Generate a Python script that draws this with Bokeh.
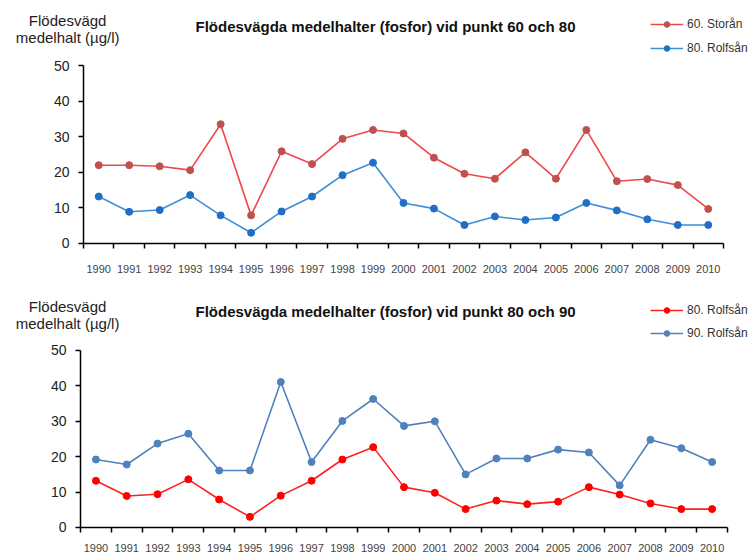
from bokeh.plotting import figure
from bokeh.layouts import column
from bokeh.models import FixedTicker, Range1d, Label, BasicTickFormatter
from bokeh.embed import file_html
from bokeh.resources import INLINE

years = [1990, 1991, 1992, 1993, 1994, 1995, 1996, 1997, 1998, 1999, 2000,
         2001, 2002, 2003, 2004, 2005, 2006, 2007, 2008, 2009, 2010]

storan_60 = [22.0, 22.0, 21.7, 20.6, 33.5, 7.9, 25.9, 22.3, 29.4, 31.9, 30.9,
             24.1, 19.6, 18.2, 25.6, 18.2, 31.9, 17.5, 18.1, 16.4, 9.7]
rolfsan_80 = [13.2, 8.9, 9.4, 13.6, 7.9, 3.0, 9.0, 13.2, 19.2, 22.7, 11.4,
              9.8, 5.2, 7.6, 6.6, 7.3, 11.4, 9.3, 6.8, 5.2, 5.2]
rolfsan_90 = [19.2, 17.8, 23.7, 26.5, 16.1, 16.1, 41.1, 18.5, 30.1, 36.3, 28.7,
              30.0, 15.0, 19.5, 19.5, 22.0, 21.2, 11.9, 24.8, 22.4, 18.5]

y_ticks = [0, 10, 20, 30, 40, 50]
y_title = ["Flödesvägd", "medelhalt (µg/l)"]
titles = ["Flödesvägda medelhalter (fosfor) vid punkt 60 och 80",
          "Flödesvägda medelhalter (fosfor) vid punkt 80 och 90"]

FONT = "Liberation Sans"
X0, X1 = years[0] - 0.5, years[-1] + 0.5


def make_panel(height, xr, yr, series, title, legend_loc, leg_spacing, ylab_x, ylab_y,
               title_xy, xstandoff):
    p = figure(width=750, height=height, output_backend="svg", toolbar_location=None,
               title=None, x_range=Range1d(*xr), y_range=Range1d(*yr),
               min_border=0, min_border_left=0, min_border_right=0,
               min_border_top=0, min_border_bottom=0)
    p.outline_line_color = None
    p.xgrid.visible = False
    p.ygrid.visible = False
    p.background_fill_color = "white"

    for name, vals, lc, mc in series:
        p.line(years, vals, line_color=lc, line_width=1.6, legend_label=name)
        p.scatter(years, vals, size=7, fill_color=mc, line_color=mc, legend_label=name)

    xa = p.xaxis[0]
    xa.fixed_location = 0
    xa.bounds = (X0, X1)
    xa.ticker = FixedTicker(ticks=years, minor_ticks=[y - 0.5 for y in years] + [X1])
    xa.formatter = BasicTickFormatter(use_scientific=False)
    xa.major_tick_out = 0
    xa.major_tick_in = 0
    xa.minor_tick_out = 5
    xa.minor_tick_in = 0
    xa.minor_tick_line_color = "black"
    xa.minor_tick_line_width = 1.5
    xa.axis_line_color = "black"
    xa.axis_line_width = 1.5
    xa.major_label_standoff = xstandoff
    xa.major_label_text_font = FONT
    xa.major_label_text_font_size = "11px"
    xa.major_label_text_color = "#444444"

    ya = p.yaxis[0]
    ya.fixed_location = X0
    ya.bounds = (0, 50)
    ya.ticker = FixedTicker(ticks=y_ticks)
    ya.major_tick_out = 5
    ya.major_tick_in = 0
    ya.minor_tick_out = 0
    ya.minor_tick_in = 0
    ya.major_tick_line_color = "black"
    ya.major_tick_line_width = 1.5
    ya.axis_line_color = "black"
    ya.axis_line_width = 1.5
    ya.major_label_standoff = 9
    ya.major_label_text_font = FONT
    ya.major_label_text_font_size = "14px"
    ya.major_label_text_color = "#222222"

    for txt, yy in zip(y_title, ylab_y):
        p.add_layout(Label(x=ylab_x, y=yy, text=txt, text_align="center", text_baseline="middle",
                           text_font=FONT, text_font_size="15px", text_color="#222222"))
    p.add_layout(Label(x=title_xy[0], y=title_xy[1], text=title, text_align="center",
                       text_baseline="middle", text_font=FONT, text_font_size="15px",
                       text_font_style="bold", text_color="#111111"))

    lg = p.legend[0]
    lg.location = legend_loc
    lg.orientation = "vertical"
    lg.border_line_color = None
    lg.background_fill_alpha = 0
    lg.padding = 0
    lg.margin = 0
    lg.spacing = leg_spacing
    lg.glyph_width = 33
    lg.glyph_height = 14
    lg.label_height = 14
    lg.label_standoff = 4
    lg.label_text_font = FONT
    lg.label_text_font_size = "12px"
    lg.label_text_color = "#333333"
    return p


top = make_panel(285, (1986.777, 2011.386), (-11.80, 68.26),
                 [("60. Storån", storan_60, "#F04848", "#C0504D"),
                  ("80. Rolfsån", rolfsan_80, "#3D8FD8", "#1F6FC5")],
                 titles[0], (650, 230), 10, 1988.98, [62.6, 57.9], (1999.41, 61.0), 17)

bottom = make_panel(269, (1986.903, 2011.246), (-7.63, 68.36),
                    [("80. Rolfsån", rolfsan_80, "#FF2020", "#FF0000"),
                     ("90. Rolfsån", rolfsan_90, "#4F81BD", "#4F81BD")],
                    titles[1], (650, 214), 9, 1989.08, [62.4, 57.6], (1999.4, 61.0), 12)

layout = column(top, bottom, spacing=0)
open("out.html", "w").write(file_html(layout, INLINE))
